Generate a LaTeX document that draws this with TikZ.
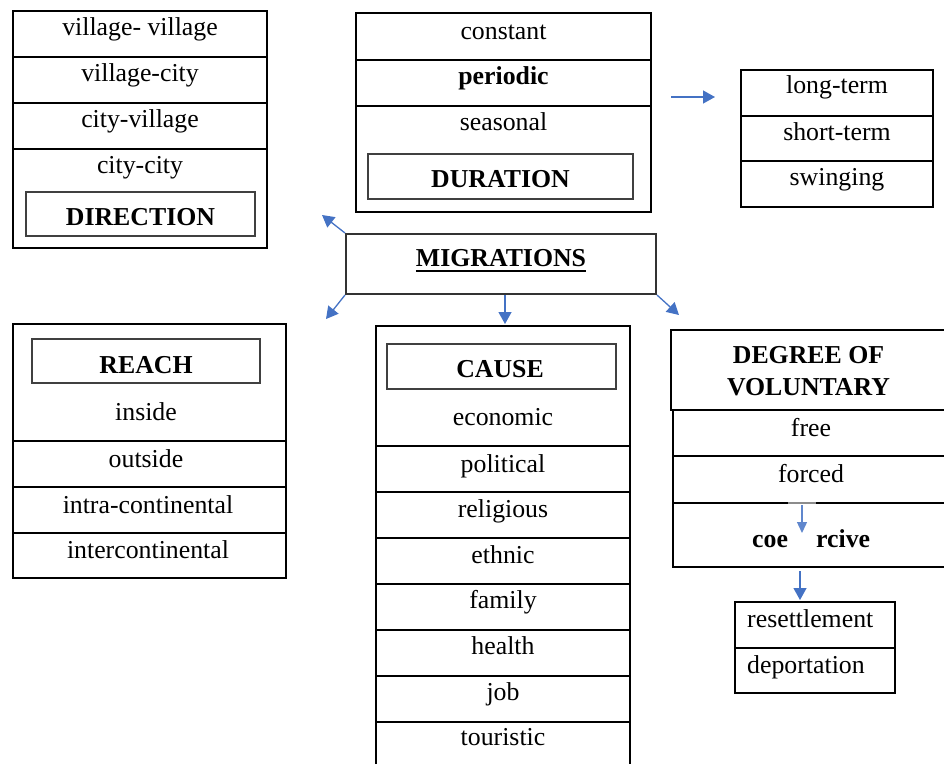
\documentclass[tikz,border=0pt]{standalone}
\usepackage{fontspec}
\setmainfont{Liberation Serif}
\usetikzlibrary{arrows.meta}
\definecolor{arr}{HTML}{4472C4}
\tikzset{
  tbl/.style={draw=black, line width=2pt},
  inbox/.style={draw=black!75, line width=1.3pt},
  lbl/.style={inner sep=0pt, anchor=base, font=\fontsize{25.8}{30}\selectfont},
  blbl/.style={inner sep=0pt, anchor=base, font=\fontsize{25.8}{30}\selectfont\bfseries},
  arrow/.style={draw=arr, line width=1.3pt, -{Triangle[length=12pt,width=13pt]}},
  sarrow/.style={draw=arr!85, line width=1.3pt, -{Triangle[length=11pt,width=10pt]}}
}
\begin{document}
\begin{tikzpicture}[x=1pt,y=-1pt]
\useasboundingbox (0,0) rectangle (944,764);

% DIRECTION
\draw[tbl] (13,11) rectangle (267,248);
\draw[tbl] (13,57) -- (267,57) (13,103) -- (267,103) (13,149) -- (267,149);
\draw[inbox] (26,192) rectangle (255,236);
\node[lbl] (d1) at (140,35) {village- village};
\node[lbl] (d2) at (140,81) {village-city};
\node[lbl] (d3) at (140,127) {city-village};
\node[lbl] (d4) at (140,173) {city-city};
\node[blbl] (dh) at (140.5,225) {DIRECTION};

% DURATION
\draw[tbl] (356,13) rectangle (651,212);
\draw[tbl] (356,60) -- (651,60) (356,106) -- (651,106);
\draw[inbox] (368,154) rectangle (633,199);
\node[lbl] (u1) at (503.5,39) {constant};
\node[blbl] (u2) at (503.5,84) {periodic};
\node[lbl] (u3) at (503.5,130) {seasonal};
\node[blbl] (uh) at (500.5,187) {DURATION};

% duration arrow
\coordinate (b0) at (671,97);
\coordinate (b1) at (715,97);
\draw[arrow] (b0) -- (b1);

% long-term box
\draw[tbl] (741,70) rectangle (933,207);
\draw[tbl] (741,116) -- (933,116) (741,161) -- (933,161);
\node[lbl] (l1) at (837,93) {long-term};
\node[lbl] (l2) at (837,140) {short-term};
\node[lbl] (l3) at (837,185) {swinging};

% MIGRATIONS
\node[draw=black!80, line width=2pt, minimum width=310pt, minimum height=60pt, inner sep=0pt] (mig) at (501,264) {};
\node[blbl] (migt) at (501,266) {MIGRATIONS};
\draw[line width=2.3pt] ([yshift=-5pt]migt.base west) -- ([yshift=-5pt]migt.base east);

\coordinate (a1) at (322,215);
\coordinate (a2) at (326,319);
\coordinate (a3) at (505,324);
\coordinate (a4) at (679,315);
\draw[arrow] (mig.north west) -- (a1);
\draw[arrow] (mig.south west) -- (a2);
\draw[arrow] (a3 |- mig.south) -- (a3);
\draw[arrow] (mig.south east) -- (a4);

% REACH
\draw[tbl] (13,324) rectangle (286,578);
\draw[tbl] (13,441) -- (286,441) (13,487) -- (286,487) (13,533) -- (286,533);
\draw[inbox] (32,339) rectangle (260,383);
\node[blbl] (rh) at (146,373) {REACH};
\node[lbl] (r1) at (146,420) {inside};
\node[lbl] (r2) at (146,467) {outside};
\node[lbl] (r3) at (148,513) {intra-continental};
\node[lbl] (r4) at (148,558) {intercontinental};

% CAUSE
\draw[tbl] (376,764) -- (376,326) -- (630,326) -- (630,764);
\foreach \yy in {446,492,538,584,630,676,722} {\draw[tbl] (376,\yy) -- (630,\yy);}
\draw[inbox] (387,344) rectangle (616,389);
\node[blbl] (ch) at (500,377) {CAUSE};
\node[lbl] (c1t) at (503,425) {economic};
\node[lbl] (c2t) at (503,472) {political};
\node[lbl] (c3t) at (503,517) {religious};
\node[lbl] (c4t) at (503,563) {ethnic};
\node[lbl] (c5t) at (503,608) {family};
\node[lbl] (c6t) at (503,654) {health};
\node[lbl] (c7t) at (503,700) {job};
\node[lbl] (c8t) at (503,745) {touristic};

% DEGREE OF VOLUNTARY
\draw[line width=1.5pt] (944,330) -- (671,330) -- (671,410) -- (944,410);
\draw[tbl] (673,410) -- (673,567) -- (944,567);
\draw[tbl] (673,456) -- (944,456);
\draw[tbl] (673,503) -- (788,503) (816,503) -- (944,503);
\draw[line width=2pt, black!45] (788,503) -- (816,503);
\node[blbl] (gh1) at (808.5,363) {DEGREE OF};
\node[blbl] (gh2) at (808.5,395) {VOLUNTARY};
\node[lbl] (g1) at (811,436) {free};
\node[lbl] (g2) at (811,482) {forced};
\node[blbl, anchor=base west] (g3a) at (752,547) {coe};
\node[blbl, anchor=base west] (g3b) at (816,547) {rcive};
\coordinate (k0) at (802,505);
\coordinate (k1) at (802,533);
\draw[sarrow] (k0) -- (k1);

\coordinate (e0) at (800,571);
\coordinate (e1) at (800,600);
\draw[arrow] (e0) -- (e1);

% resettlement box
\draw[tbl] (735,602) rectangle (895,693);
\draw[tbl] (735,648) -- (895,648);
\node[lbl, anchor=base west] (s1) at (747,627) {resettlement};
\node[lbl, anchor=base west] (s2) at (747,673) {deportation};
\end{tikzpicture}
\end{document}
